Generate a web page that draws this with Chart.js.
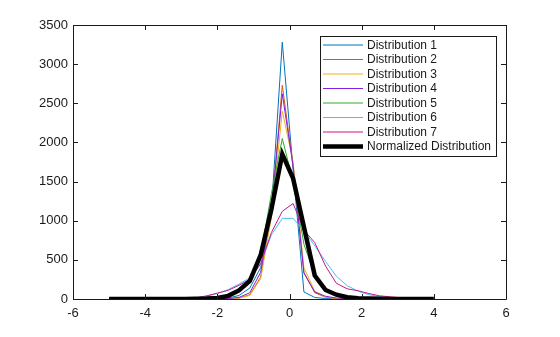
<!DOCTYPE html>
<html>
<head>
<meta charset="utf-8">
<script src="https://cdn.jsdelivr.net/npm/chart.js@4"></script>
<style>
  html, body { margin: 0; padding: 0; background: #fff; }
  #wrap { width: 560px; height: 337px; }
</style>
</head>
<body>
<div id="wrap"><canvas id="chart"></canvas></div>
<script>
// bin centres shared by every curve
const xValues = [-5, -4.7, -4.4, -4.1, -3.8, -3.5, -3.2, -2.9, -2.6, -2.3, -2, -1.7, -1.4, -1.1, -0.8,
  -0.5, -0.2, 0.1, 0.4, 0.7, 1, 1.3, 1.6, 1.9, 2.2, 2.5, 2.8, 3.1, 3.4, 3.7, 4];

const dist1 = [0, 0, 0, 0, 0, 0, 0, 0, 0, 2, 5, 12, 45, 140, 400, 1150, 3280, 1650, 90, 20, 5, 2, 0, 0, 0, 0, 0, 0, 0, 0, 0];
const dist2 = [0, 0, 0, 0, 0, 0, 0, 0, 0, 0, 0, 3, 12, 55, 280, 1100, 2730, 1700, 340, 80, 22, 8, 3, 0, 0, 0, 0, 0, 0, 0, 0];
const dist3 = [0, 0, 0, 0, 0, 0, 0, 0, 0, 0, 0, 2, 10, 45, 260, 1050, 2400, 1750, 400, 100, 25, 8, 3, 0, 0, 0, 0, 0, 0, 0, 0];
const dist4 = [0, 0, 0, 0, 0, 0, 0, 0, 0, 0, 2, 6, 20, 80, 340, 1150, 2620, 1700, 330, 90, 35, 12, 4, 0, 0, 0, 0, 0, 0, 0, 0];
const dist5 = [0, 0, 0, 0, 0, 0, 0, 0, 0, 3, 10, 40, 100, 230, 560, 1350, 2050, 1500, 700, 300, 120, 45, 15, 5, 2, 0, 0, 0, 0, 0, 0];
const dist6 = [0, 0, 0, 0, 0, 0, 1, 3, 12, 35, 70, 120, 190, 270, 450, 820, 1030, 1030, 870, 680, 480, 290, 170, 100, 55, 30, 15, 6, 2, 0, 0];
const dist7 = [0, 0, 0, 0, 0, 0, 1, 5, 15, 40, 75, 110, 175, 250, 450, 850, 1120, 1220, 880, 720, 420, 200, 130, 105, 70, 40, 28, 15, 6, 2, 0];
const normalized = [0, 0, 0, 0, 0, 0, 0, 0, 2, 5, 12, 40, 110, 230, 560, 1150, 1850, 1540, 920, 300, 115, 55, 22, 10, 5, 3, 1, 0, 0, 0, 0];

const seriesNames = ["Distribution 1", "Distribution 2", "Distribution 3", "Distribution 4",
  "Distribution 5", "Distribution 6", "Distribution 7", "Normalized Distribution"];
const seriesValues = [dist1, dist2, dist3, dist4, dist5, dist6, dist7, normalized];
const seriesColors = ["#0072BD", "#D95319", "#EDB120", "#8020E0", "#30A830", "#4DBEEE", "#C8168C", "#000000"];
const seriesWidths = [1, 1, 1, 1, 1, 1, 1, 4.5];

const xTicks = [-6, -4, -2, 0, 2, 4, 6];
const yTicks = [0, 500, 1000, 1500, 2000, 2500, 3000, 3500];

const TEXT = "#1a1a1a";
Chart.defaults.font.family = "'Liberation Sans', Arial, sans-serif";
Chart.defaults.color = TEXT;

// box round the axes with inward ticks, like the original plot
const framePlugin = {
  id: "frame",
  afterDatasetsDraw(chart) {
    const { ctx, chartArea: a, scales } = chart;
    const len = 5;
    ctx.save();
    ctx.strokeStyle = TEXT;
    ctx.lineWidth = 1;
    ctx.beginPath();
    ctx.rect(Math.round(a.left) + 0.5, Math.round(a.top) + 0.5,
      Math.round(a.right - a.left), Math.round(a.bottom - a.top));
    xTicks.forEach((v) => {
      const x = Math.round(scales.x.getPixelForValue(v)) + 0.5;
      ctx.moveTo(x, a.bottom); ctx.lineTo(x, a.bottom - len);
      ctx.moveTo(x, a.top); ctx.lineTo(x, a.top + len);
    });
    yTicks.forEach((v) => {
      const y = Math.round(scales.y.getPixelForValue(v)) + 0.5;
      ctx.moveTo(a.left, y); ctx.lineTo(a.left + len, y);
      ctx.moveTo(a.right, y); ctx.lineTo(a.right - len, y);
    });
    ctx.stroke();
    ctx.restore();
  },
};

// boxed legend in the top right corner
const legendPlugin = {
  id: "boxLegend",
  afterDraw(chart) {
    const { ctx } = chart;
    const x0 = 320, y0 = 36, w = 176, h = 120, rowH = 14.5;
    ctx.save();
    ctx.fillStyle = "#fff";
    ctx.fillRect(x0, y0, w, h);
    ctx.strokeStyle = TEXT;
    ctx.lineWidth = 1;
    ctx.strokeRect(x0 + 0.5, y0 + 0.5, w, h);
    ctx.font = "12px 'Liberation Sans', Arial, sans-serif";
    ctx.textBaseline = "middle";
    chart.data.datasets.forEach((ds, i) => {
      const y = y0 + 9 + i * rowH;
      ctx.strokeStyle = ds.borderColor;
      ctx.lineWidth = ds.borderWidth;
      ctx.beginPath();
      ctx.moveTo(x0 + 3, y);
      ctx.lineTo(x0 + 43, y);
      ctx.stroke();
      ctx.fillStyle = TEXT;
      ctx.fillText(ds.label, x0 + 47, y + 0.5);
    });
    ctx.restore();
  },
};

const datasets = seriesNames.map((name, i) => ({
  label: name,
  data: xValues.map((x, j) => ({ x: x, y: seriesValues[i][j] })),
  borderColor: seriesColors[i],
  borderWidth: seriesWidths[i],
  pointRadius: 0,
  tension: 0,
  fill: false,
  order: seriesNames.length - i,
}));

// plain numbers, no thousands separator
const plain = (v) => String(v);

new Chart(document.getElementById("chart"), {
  type: "line",
  data: { datasets: datasets },
  options: {
    responsive: true,
    maintainAspectRatio: false,
    animation: false,
    layout: { padding: { left: 0, right: 54, top: 25, bottom: 0 } },
    plugins: { legend: { display: false }, tooltip: { enabled: false } },
    scales: {
      x: {
        type: "linear",
        min: -6,
        max: 6,
        afterBuildTicks: (s) => { s.ticks = xTicks.map((v) => ({ value: v })); },
        afterFit: (s) => { s.height = 38; },
        grid: { display: false, drawTicks: false },
        border: { display: false },
        ticks: { padding: 7, font: { size: 13 }, color: TEXT, maxRotation: 0, callback: plain },
      },
      y: {
        min: 0,
        max: 3500,
        afterBuildTicks: (s) => { s.ticks = yTicks.map((v) => ({ value: v })); },
        afterFit: (s) => { s.width = 73; },
        grid: { display: false, drawTicks: false },
        border: { display: false },
        ticks: { padding: 5, font: { size: 13 }, color: TEXT, callback: plain },
      },
    },
  },
  plugins: [framePlugin, legendPlugin],
});
</script>
</body>
</html>
